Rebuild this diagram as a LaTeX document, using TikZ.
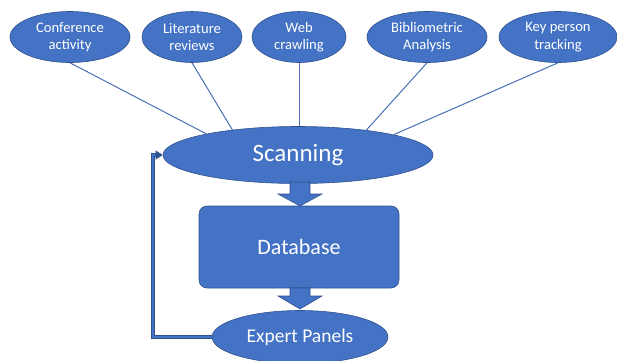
\documentclass[tikz,border=0pt]{standalone}
\usepackage{fontspec}
\setmainfont{Carlito}
\usetikzlibrary{shapes.geometric,arrows.meta}
\definecolor{boxfill}{HTML}{4472C4}
\definecolor{boxedge}{HTML}{2F528F}
\definecolor{linkline}{HTML}{4A6FB5}
\tikzset{
  source/.style={ellipse, fill=boxfill, draw=boxedge, line width=0.6pt, text=white,
    inner sep=0pt, minimum height=51pt, align=center, font=\fontsize{14.6}{17.3}\selectfont},
  hub/.style={ellipse, fill=boxfill, draw=boxedge, line width=0.6pt, text=white, inner sep=0pt},
  store/.style={rectangle, rounded corners=8pt, fill=boxfill, draw=boxedge, line width=0.6pt,
    text=white, inner sep=0pt, minimum width=200pt, minimum height=82pt,
    font=\fontsize{22}{25}\selectfont},
  link/.style={draw=linkline, line width=1pt},
  blockarrow/.style={fill=boxfill, draw=boxedge, line width=0.6pt, line join=miter},
  feedback/.style={draw=boxedge, double=boxfill, double distance=2.2pt, line width=0.6pt,
    -{Triangle[length=7pt,width=9pt]}}
}
\begin{document}
\begin{tikzpicture}[x=1pt,y=-1pt]
\useasboundingbox (0,0) rectangle (617,360);

% source ellipses along the top
\node[source, minimum width=120pt] (conf) at (70,37)  {Conference\\activity};
\node[source, minimum width=100pt] (lit)  at (192,37) {Literature\\reviews};
\node[source, minimum width=94pt]  (web)  at (299,37) {Web\\crawling};
\node[source, minimum width=120pt] (bib)  at (427,37) {Bibliometric\\Analysis};
\node[source, minimum width=118pt] (key)  at (558,37) {Key person\\tracking};

% central scanning step
\node[hub, minimum width=270pt, minimum height=57pt, font=\fontsize{25}{28}\selectfont]
  (scan) at (298,155) {Scanning};

% links from every source into scanning
\draw[link] (conf.south) -- (scan.167);
\draw[link] (lit.south)  -- (scan.159);
\draw[link] (web.south)  -- (scan.north -| web.south);
\draw[link] (bib.south)  -- (scan.20);
\draw[link] (key.south)  -- (scan.12);

% database
\node[store] (db) at (299,247) {Database};

% expert panels
\node[hub, minimum width=176pt, minimum height=53pt, font=\fontsize{19.5}{22}\selectfont]
  (exp) at (300,337) {Expert Panels};

% block arrows between the stages
\coordinate (tip1) at (300,206);
\coordinate (tip2) at (300,309);
\draw[blockarrow] (tip1) -- ++(-22,-12) -- ++(12,0) -- ++(0,-12) -- ++(20,0)
  -- ++(0,12) -- ++(12,0) -- cycle;
\draw[blockarrow] (tip2) -- ++(-22,-13) -- ++(12,0) -- ++(0,-8) -- ++(20,0)
  -- ++(0,8) -- ++(12,0) -- cycle;

% feedback loop from the panels back to scanning
\coordinate (fb) at (153,0);
\draw[feedback] (exp.west) -- (exp.west -| fb) -- (scan.west -| fb) -- (scan.west);
\end{tikzpicture}
\end{document}
